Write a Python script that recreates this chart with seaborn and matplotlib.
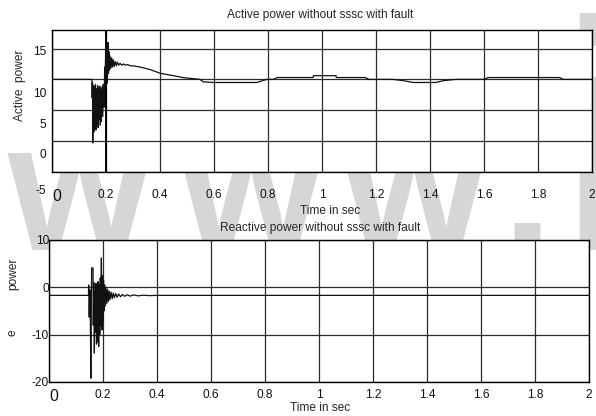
import matplotlib
matplotlib.use("Agg")
import matplotlib.pyplot as plt
import matplotlib.transforms as mtransforms
import seaborn as sns
import pandas as pd

# ---------------- data ----------------
active_t = [0.0, 0.148, 0.149, 0.150, 0.151, 0.153, 0.155, 0.157, 0.159, 0.161, 0.163,
            0.165, 0.167, 0.169, 0.171, 0.173, 0.175, 0.177, 0.179, 0.181, 0.183,
            0.185, 0.188, 0.190, 0.193, 0.195, 0.197, 0.199, 0.201, 0.203, 0.205,
            0.207, 0.209, 0.211, 0.213, 0.215, 0.218, 0.221, 0.224, 0.227, 0.230,
            0.234, 0.238, 0.242, 0.247, 0.252, 0.258, 0.265, 0.272, 0.280, 0.290,
            0.300, 0.326, 0.363, 0.400, 0.450, 0.485, 0.548, 0.560, 0.596, 0.759,
            0.780, 0.796, 0.819, 0.835, 0.919, 0.967, 0.968, 1.052, 1.053, 1.160,
            1.174, 1.263, 1.300, 1.337, 1.422, 1.450, 1.496, 1.600, 1.615, 1.880,
            1.893, 2.0]
active_p = [10.0, 10.0, 7.0, 9.5, -0.3, 9.0, 1.5, 8.8, 2.5, 9.2, 1.8,
            8.5, 3.0, 9.0, 2.2, 8.6, 3.5, 8.9, 2.6, 8.4, 3.2,
            8.8, 4.0, 9.2, 5.5, 12.0, 9.0, 16.9, 10.0, 15.5, 9.4,
            16.0, 11.0, 14.5, 11.5, 13.8, 11.8, 13.5, 12.0, 13.2, 12.1,
            12.9, 12.2, 12.8, 12.3, 12.6, 12.3, 12.5, 12.3, 12.4, 12.2,
            12.2, 12.0, 11.6, 11.0, 10.6, 10.3, 10.0, 9.6, 9.5, 9.5,
            9.8, 10.0, 10.0, 10.3, 10.3, 10.3, 10.6, 10.6, 10.3, 10.3,
            10.0, 10.0, 9.8, 9.5, 9.5, 9.8, 10.0, 10.0, 10.3, 10.3,
            10.0, 10.0]

reactive_t = [0.0, 0.146, 0.147, 0.149, 0.151, 0.153, 0.155, 0.157, 0.158, 0.163,
              0.164, 0.166, 0.168, 0.170, 0.172, 0.174, 0.176, 0.178, 0.180, 0.182,
              0.184, 0.186, 0.188, 0.190, 0.192, 0.194, 0.196, 0.198, 0.200, 0.202,
              0.204, 0.206, 0.208, 0.211, 0.214, 0.217, 0.220, 0.223, 0.226, 0.230,
              0.234, 0.238, 0.242, 0.247, 0.252, 0.258, 0.265, 0.272, 0.280, 0.290,
              0.300, 0.315, 0.330, 0.350, 0.370, 0.400, 2.0]
reactive_q = [-1.7, -1.7, 0.5, -6.3, -0.5, -5.5, -19.2, -2.0, 4.1, 4.1,
              -8.0, 1.0, -13.9, -1.0, -9.5, 0.8, -12.0, -0.5, -11.5, 1.2,
              -12.5, 0.5, -10.0, 2.0, -8.0, 6.2, -9.0, 2.5, -7.0, 1.5,
              -5.0, 0.5, -4.0, 0.0, -3.5, -0.4, -3.0, -0.8, -2.6, -1.0,
              -2.4, -1.2, -2.2, -1.3, -2.1, -1.4, -2.0, -1.5, -1.9, -1.55,
              -1.85, -1.6, -1.8, -1.65, -1.75, -1.7, -1.7]

x_ticks = [0, 0.2, 0.4, 0.6, 0.8, 1.0, 1.2, 1.4, 1.6, 1.8, 2.0]
x_tick_labels = ["0", "0.2", "0.4", "0.6", "0.8", "1", "1.2", "1.4", "1.6", "1.8", "2"]
active_yticks = [-5, 0, 5, 10, 15]
reactive_yticks = [-20, -10, 0, 10]

title_active = "Active power without sssc with fault"
title_reactive = "Reactive power without sssc with fault"
xlabel = "Time in sec"

# ---------------- style ----------------
sns.set_style("white")
plt.rcParams["font.family"] = ["Liberation Sans", "DejaVu Sans"]
plt.rcParams["axes.unicode_minus"] = False

FS = 8.6
W, H = 596, 416
fig = plt.figure(figsize=(W / 100, H / 100), dpi=100)
fig.patch.set_facecolor("white")

def px_rect(l, t, r, b):
    return [l / W, (H - b) / H, (r - l) / W, (b - t) / H]

ax1 = fig.add_axes(px_rect(52, 30, 592, 172))
ax2 = fig.add_axes(px_rect(49, 240, 589, 382))

# watermark (decorative, behind the axes)
wm_col = "#d6d6d6"
for xpos in [8, 180, 343]:
    fig.text(xpos / W, (H - 250) / H, "w", fontsize=132, fontweight="bold",
             color=wm_col, ha="left", va="baseline", zorder=-5,
             family="Liberation Sans")
fig.text(502 / W, (H - 250) / H, ".", fontsize=132, fontweight="bold",
         color=wm_col, ha="left", va="baseline", zorder=-5, family="Liberation Sans")
fig.text(556 / W, (H - 250) / H, "i", fontsize=235, fontweight="bold",
         color=wm_col, ha="left", va="baseline", zorder=-5, family="Liberation Sans")

df_a = pd.DataFrame({"t": active_t, "p": active_p})
df_r = pd.DataFrame({"t": reactive_t, "q": reactive_q})

sns.lineplot(data=df_a, x="t", y="p", ax=ax1, color="#111111", linewidth=0.9,
             estimator=None, sort=False, zorder=3)
sns.lineplot(data=df_r, x="t", y="q", ax=ax2, color="#111111", linewidth=0.9,
             estimator=None, sort=False, zorder=3)

for ax in (ax1, ax2):
    ax.set_facecolor("white")
    ax.set_xlim(0, 2)
    ax.set_xticks(x_ticks)
    ax.set_xticklabels(x_tick_labels)
    ax.grid(True, color="#2a2a2a", linewidth=0.9)
    ax.set_axisbelow(True)
    for s in ax.spines.values():
        s.set_visible(True)
        s.set_color("black")
        s.set_linewidth(1.0)
    ax.tick_params(length=0, labelsize=FS, colors="#111111")

ax1.set_ylim(-5, 18)
ax1.set_yticks(active_yticks)
ax2.set_ylim(-20, 10)
ax2.set_yticks(reactive_yticks)

ax1.tick_params(axis="x", pad=12)
ax1.tick_params(axis="y", pad=4)
ax2.tick_params(axis="x", pad=5)
ax2.tick_params(axis="y", pad=0)

# emphasised 0.2 gridline in upper plot
ax1.axvline(0.2, color="black", linewidth=1.4, zorder=2)

fig.canvas.draw()
# scanned-offset y tick labels in the upper plot
for lab, off in zip(ax1.get_yticklabels(), [18, 12, 13, 13, 2]):
    lab.set_transform(lab.get_transform() +
                      mtransforms.ScaledTranslation(0, -off / 100, fig.dpi_scale_trans))
for ax in (ax1, ax2):
    lab0 = ax.get_xticklabels()[0]
    lab0.set_fontsize(11.5)
    lab0.set_transform(lab0.get_transform() +
                       mtransforms.ScaledTranslation(5 / 100, 0, fig.dpi_scale_trans))

ax1.set_xlabel(xlabel, fontsize=FS)
ax1.xaxis.set_label_coords((330 - 52) / 540, (172 - 205) / 142)
ax2.set_xlabel(xlabel, fontsize=FS)
ax2.xaxis.set_label_coords((320 - 49) / 540, (382 - 402) / 142)

ax1.set_ylabel("Active  power", fontsize=FS)
ax1.yaxis.set_label_coords((26 - 52) / 540, (172 - 85) / 142)
ax2.set_ylabel("power", fontsize=FS)
ax2.yaxis.set_label_coords((19 - 49) / 540, (382 - 274) / 142)
fig.text(13 / W, (H - 333) / H, "e", fontsize=FS, rotation=90, ha="center", va="center")

fig.text(320 / W, (H - 15) / H, title_active, fontsize=FS, ha="center", va="center")
fig.text(320 / W, (H - 228) / H, title_reactive, fontsize=FS, ha="center", va="center")

fig.savefig("out.png", dpi=100, facecolor="white")
